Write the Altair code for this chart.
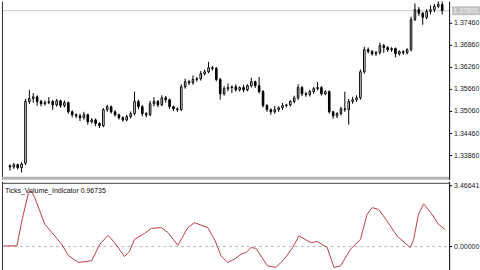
import altair as alt
import pandas as pd

# ---------------- data ----------------
bar_index = list(range(112))

opens = [1.3358,1.3355,1.3361,1.3353,1.3365,1.3533,1.3541,1.3546,1.3533,1.3527,
1.3530,1.3533,1.3524,1.3535,1.3522,1.3530,1.3505,1.3497,1.3494,1.3489,
1.3497,1.3478,1.3483,1.3473,1.3467,1.3511,1.3519,1.3505,1.3497,1.3489,
1.3483,1.3492,1.3500,1.3533,1.3519,1.3500,1.3497,1.3527,1.3533,1.3524,
1.3543,1.3538,1.3519,1.3513,1.3511,1.3573,1.3587,1.3584,1.3593,1.3595,
1.3609,1.3614,1.3625,1.3623,1.3593,1.3554,1.3568,1.3571,1.3573,1.3565,
1.3571,1.3565,1.3576,1.3587,1.3576,1.3560,1.3522,1.3511,1.3505,1.3511,
1.3516,1.3522,1.3524,1.3533,1.3543,1.3571,1.3554,1.3552,1.3560,1.3568,
1.3571,1.3554,1.3560,1.3505,1.3494,1.3500,1.3513,1.3511,1.3533,1.3538,
1.3543,1.3614,1.3674,1.3669,1.3663,1.3666,1.3685,1.3680,1.3674,1.3677,
1.3663,1.3669,1.3666,1.3674,1.3756,1.3783,1.3773,1.3762,1.3778,1.3783,
1.3792,1.3797]

closes = [1.3355,1.3361,1.3353,1.3363,1.3533,1.3541,1.3546,1.3533,1.3527,1.3530,
1.3533,1.3524,1.3535,1.3522,1.3530,1.3505,1.3497,1.3494,1.3489,1.3497,
1.3478,1.3483,1.3473,1.3467,1.3511,1.3519,1.3505,1.3497,1.3489,1.3483,
1.3492,1.3500,1.3533,1.3519,1.3500,1.3497,1.3527,1.3533,1.3524,1.3543,
1.3538,1.3519,1.3513,1.3511,1.3573,1.3587,1.3584,1.3593,1.3595,1.3609,
1.3614,1.3625,1.3623,1.3593,1.3554,1.3568,1.3571,1.3573,1.3565,1.3571,
1.3565,1.3576,1.3587,1.3576,1.3560,1.3522,1.3511,1.3505,1.3511,1.3516,
1.3522,1.3524,1.3533,1.3543,1.3571,1.3554,1.3552,1.3560,1.3568,1.3571,
1.3554,1.3560,1.3505,1.3494,1.3500,1.3513,1.3511,1.3533,1.3538,1.3543,
1.3614,1.3674,1.3669,1.3663,1.3666,1.3685,1.3680,1.3674,1.3677,1.3663,
1.3669,1.3666,1.3674,1.3756,1.3783,1.3773,1.3762,1.3778,1.3783,1.3792,
1.3797,1.3781]

highs = [1.3362,1.3366,1.3364,1.3368,1.3540,1.3565,1.3556,1.3550,1.3538,1.3536,
1.3545,1.3537,1.3540,1.3538,1.3536,1.3533,1.3509,1.3501,1.3500,1.3505,
1.3500,1.3488,1.3487,1.3477,1.3515,1.3524,1.3522,1.3509,1.3500,1.3493,
1.3497,1.3506,1.3560,1.3538,1.3523,1.3504,1.3535,1.3545,1.3537,1.3550,
1.3548,1.3541,1.3522,1.3517,1.3580,1.3595,1.3592,1.3604,1.3600,1.3616,
1.3620,1.3641,1.3630,1.3627,1.3597,1.3575,1.3582,1.3577,1.3580,1.3574,
1.3578,1.3580,1.3598,1.3590,1.3600,1.3564,1.3526,1.3514,1.3521,1.3520,
1.3529,1.3527,1.3537,1.3549,1.3580,1.3575,1.3559,1.3565,1.3573,1.3586,
1.3575,1.3564,1.3563,1.3508,1.3504,1.3519,1.3560,1.3540,1.3546,1.3550,
1.3620,1.3682,1.3680,1.3673,1.3671,1.3693,1.3690,1.3684,1.3681,1.3680,
1.3672,1.3673,1.3678,1.3764,1.3800,1.3790,1.3777,1.3785,1.3795,1.3798,
1.3810,1.3815]

lows = [1.3345,1.3350,1.3348,1.3340,1.3360,1.3526,1.3530,1.3522,1.3520,1.3522,
1.3526,1.3510,1.3519,1.3516,1.3517,1.3500,1.3490,1.3488,1.3480,1.3484,
1.3470,1.3473,1.3466,1.3461,1.3463,1.3505,1.3500,1.3492,1.3484,1.3478,
1.3479,1.3487,1.3495,1.3512,1.3493,1.3490,1.3493,1.3520,1.3518,1.3520,
1.3530,1.3513,1.3507,1.3505,1.3507,1.3568,1.3578,1.3579,1.3587,1.3590,
1.3604,1.3610,1.3617,1.3588,1.3538,1.3549,1.3561,1.3556,1.3560,1.3560,
1.3558,1.3561,1.3571,1.3570,1.3555,1.3517,1.3505,1.3497,1.3500,1.3505,
1.3510,1.3517,1.3519,1.3528,1.3537,1.3548,1.3546,1.3547,1.3554,1.3563,
1.3549,1.3550,1.3500,1.3486,1.3488,1.3495,1.3505,1.3470,1.3527,1.3532,
1.3538,1.3609,1.3664,1.3658,1.3657,1.3661,1.3665,1.3668,1.3668,1.3653,
1.3658,1.3660,1.3661,1.3669,1.3752,1.3766,1.3742,1.3757,1.3770,1.3776,
1.3787,1.3770]

# indicator line (bar position, value)
ind_pos = [-0.3, 3.0, 4.25, 5.9, 6.6, 7.5, 10.0, 11.75, 14.25, 15.9, 18.4, 21.75,
           23.8, 25.9, 27.5, 30.0, 31.25, 32.5, 35.0, 36.75, 39.25, 40.9, 43.4,
           45.9, 47.6, 50.9, 52.6, 54.25, 55.9, 57.6, 59.25, 60.5, 61.75, 63.0,
           65.9, 68.0, 70.1, 72.2, 73.8, 76.75, 78.4, 80.9, 82.6, 84.25, 86.75,
           89.25, 90.9, 92.2, 93.8, 95.9, 98.4, 101.75, 102.6, 103.8, 105.1,
           107.2, 108.8, 110.5]
ind_val = [0.04, 0.04, 1.48, 3.07, 3.17, 2.78, 1.27, 0.80, 0.13, -0.51, -0.91, -0.81,
           0.13, 0.64, 0.23, -0.57, -0.28, 0.41, 0.74, 1.04, 1.08, 0.80, 0.07,
           1.08, 1.36, 1.08, 0.41, -0.53, -0.91, -0.72, -0.44, -0.34, -0.06, -0.10,
           -1.10, -1.19, -0.72, -0.06, 0.61, 0.23, 0.28, -0.06, -1.19, -1.10, -0.15,
           0.41, 1.84, 2.22, 2.12, 1.46, 0.61, -0.06, 0.41, 1.84, 2.44,
           1.84, 1.27, 0.97]

price_ticks = [1.3386, 1.3446, 1.3506, 1.3566, 1.3626, 1.3686, 1.3746]
price_labels = ["1.33860", "1.34460", "1.35060", "1.35660", "1.36260", "1.36860", "1.37460"]
ind_ticks = [0.0, 3.46641]
ind_labels = ["0.00000", "3.46641"]
bid_price = 1.37801
bid_label = "1.37801"
indicator_title = "Ticks_Volume_Indicator 0.96735"

# ---------------- layout ----------------
W = 449
H1 = 179
H2 = 92
FONT = "Liberation Sans"
LABEL_X = W + 5

xscale = alt.Scale(domain=[-0.75, 111.5], nice=False, zero=False)
yscale1 = alt.Scale(domain=[1.3320, 1.3805], nice=False, zero=False)
yscale2 = alt.Scale(domain=[-1.534, 3.694], nice=False, zero=False)

df = pd.DataFrame({"i": bar_index, "open": opens, "high": highs, "low": lows, "close": closes})
one = pd.DataFrame({"k": [0]})

xenc = alt.X("i:Q", scale=xscale, axis=None)


def axis_layers(ticks, labels, yscale, height):
    tdf = pd.DataFrame({"v": ticks, "lab": labels})
    dom = alt.Chart(one).mark_rule(color="black", strokeWidth=1).encode(
        x=alt.value(W + 0.5), y=alt.value(0), y2=alt.value(height)
    )
    tk = alt.Chart(tdf).mark_rule(color="black", strokeWidth=1).encode(
        y=alt.Y("v:Q", scale=yscale, axis=None), x=alt.value(W), x2=alt.value(W + 3)
    )
    lab = alt.Chart(tdf).mark_text(
        fontSize=7, font=FONT, color="#202020", align="left", baseline="middle"
    ).encode(y=alt.Y("v:Q", scale=yscale, axis=None), x=alt.value(LABEL_X), text="lab:N")
    return [dom, tk, lab]


wicks = alt.Chart(df).mark_rule(color="black", strokeWidth=1, clip=True).encode(
    x=xenc,
    y=alt.Y("low:Q", scale=yscale1, axis=None),
    y2="high:Q",
)
bodies = alt.Chart(df).mark_bar(size=1.6, stroke="black", strokeWidth=1, clip=True).encode(
    x=xenc,
    y=alt.Y("open:Q", scale=yscale1, axis=None),
    y2="close:Q",
    fill=alt.condition("datum.close >= datum.open", alt.value("white"), alt.value("black")),
)
bid_line = alt.Chart(one).mark_rule(color="#c8c8c8", strokeWidth=1).encode(
    y=alt.Y(datum=bid_price, scale=yscale1, axis=None), x=alt.value(0), x2=alt.value(W)
)
bid_box = alt.Chart(one).mark_tick(orient="horizontal", size=28, thickness=9, color="#a8a8a8").encode(
    y=alt.Y(datum=bid_price, scale=yscale1, axis=None), x=alt.value(466)
)
bid_text = alt.Chart(pd.DataFrame({"t": [bid_label]})).mark_text(
    fontSize=7, font=FONT, color="#f0f0f0", align="center", baseline="middle"
).encode(y=alt.Y(datum=bid_price, scale=yscale1, axis=None), x=alt.value(466), text="t:N")
left1 = alt.Chart(one).mark_rule(color="#303030").encode(
    x=alt.value(0.5), y=alt.value(0), y2=alt.value(H1)
)
sep = alt.Chart(one).mark_rule(color="#b4b4b4", strokeWidth=3).encode(
    y=alt.value(H1 - 1.5), x=alt.value(0), x2=alt.value(W)
)

top = alt.layer(
    bid_line, wicks, bodies, left1, sep,
    *axis_layers(price_ticks, price_labels, yscale1, H1),
    bid_box, bid_text,
).properties(width=W, height=H1)

ind_df = pd.DataFrame({"pos": ind_pos, "val": ind_val})
zero_line = alt.Chart(one).mark_rule(color="#b8b8b8", strokeDash=[3, 3], strokeWidth=1).encode(
    y=alt.Y(datum=0, scale=yscale2, axis=None), x=alt.value(0), x2=alt.value(W)
)
line = alt.Chart(ind_df).mark_line(color="#b8404a", strokeWidth=1, clip=True).encode(
    x=alt.X("pos:Q", scale=xscale, axis=None),
    y=alt.Y("val:Q", scale=yscale2, axis=None),
)
ttl = alt.Chart(pd.DataFrame({"t": [indicator_title]})).mark_text(
    fontSize=7, font=FONT, color="#101010", align="left", baseline="top"
).encode(x=alt.value(3), y=alt.value(5), text="t:N")
top_line = alt.Chart(one).mark_rule(color="#404040").encode(
    y=alt.value(1.5), x=alt.value(0), x2=alt.value(W)
)
left2 = alt.Chart(one).mark_rule(color="#303030").encode(
    x=alt.value(0.5), y=alt.value(0), y2=alt.value(H2)
)
bottom = alt.layer(
    zero_line, line, ttl, top_line, left2,
    *axis_layers(ind_ticks, ind_labels, yscale2, H2),
).properties(width=W, height=H2)

chart = alt.vconcat(top, bottom, spacing=0).properties(
    padding=0, background="white"
).configure_view(stroke=None)

chart.save("out.html", embed_options={"renderer": "svg", "actions": False})
